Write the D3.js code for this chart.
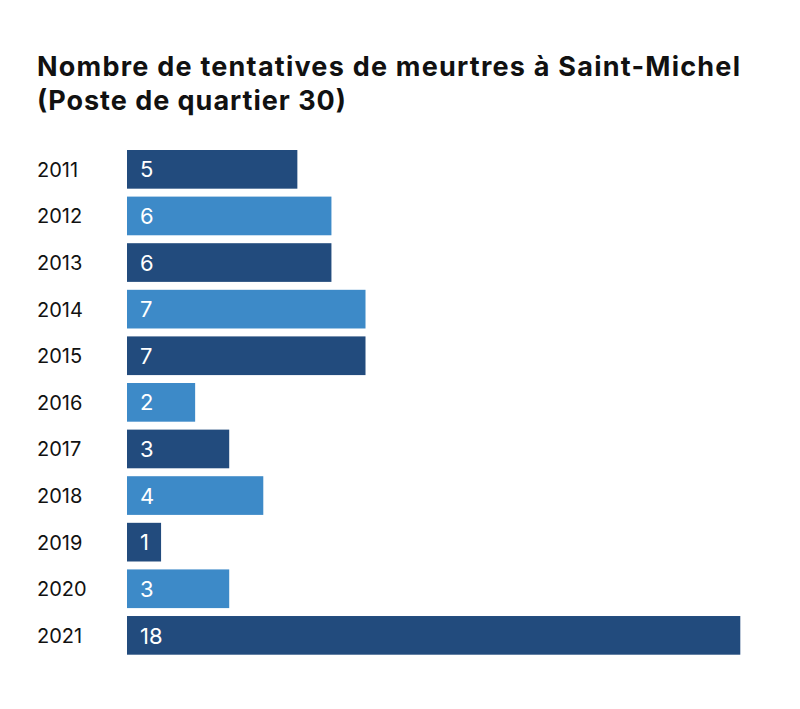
<!DOCTYPE html>
<html><head><meta charset="utf-8">
<script src="https://cdn.jsdelivr.net/npm/d3@7"></script>
<style>body{margin:0;background:#fff}</style>
</head><body>
<svg id="c" width="800" height="709"></svg>
<script>
const years = ["2011","2012","2013","2014","2015","2016","2017","2018","2019","2020","2021"];
const values = [5,6,6,7,7,2,3,4,1,3,18];
const titleLines = ["Nombre de tentatives de meurtres à Saint-Michel","(Poste de quartier 30)"];
const colors = ["#224b7d","#3d8ac8"];

const svg = d3.select("#c");
svg.append("rect").attr("width",800).attr("height",709).attr("fill","#fff");

const tl = svg.append("g").selectAll("text").data(titleLines).join("text")
  .attr("x",37).attr("y",(d,i)=>76+i*34)
  .attr("font-family","Inter, sans-serif").attr("font-weight",700)
  .attr("font-size",27).attr("fill","#111")
  .text(d=>d);
const targetW = [703, 309];
tl.each(function(d,i){
  d3.select(this).attr("textLength",targetW[i]).attr("lengthAdjust","spacing");
});

const x = d3.scaleLinear().domain([0,18]).range([127,740.3]);
const y = d3.scaleBand().domain(years).range([150,654.7]).paddingInner(0.17).paddingOuter(0);

const g = svg.append("g");
g.selectAll("rect").data(years).join("rect")
  .attr("x",x(0)).attr("y",d=>y(d))
  .attr("width",(d,i)=>x(values[i])-x(0)).attr("height",y.bandwidth())
  .attr("fill",(d,i)=>colors[i%2]);

g.selectAll("text.v").data(years).join("text").attr("class","v")
  .attr("x",x(0)+13).attr("y",d=>y(d)+y.bandwidth()/2)
  .attr("dy","0.37em")
  .attr("font-family","Inter, sans-serif").attr("font-size",22).attr("fill","#fff")
  .text((d,i)=>values[i]);

const yAxis = d3.axisLeft(y).tickSize(0).tickPadding(0);
const ag = svg.append("g").attr("transform","translate(37,0)").call(yAxis);
ag.select(".domain").remove();
ag.selectAll("text").attr("text-anchor","start").attr("x",0).attr("dy","0.37em")
  .attr("font-family","Inter, sans-serif").attr("font-size",20).attr("fill","#111");
</script>
</body></html>
